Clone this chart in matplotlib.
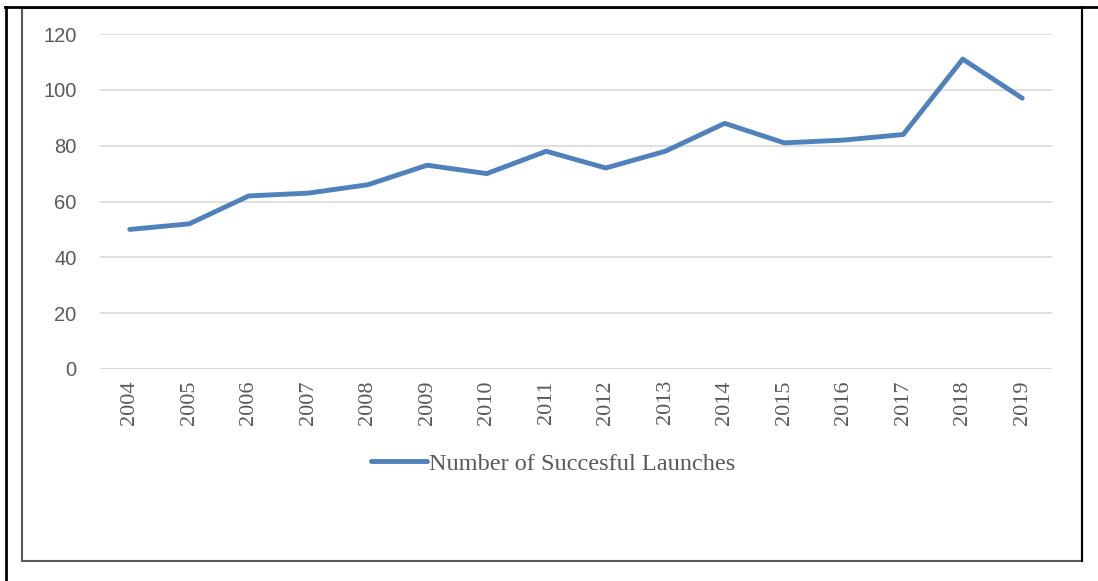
import matplotlib
matplotlib.use("Agg")
import matplotlib.pyplot as plt
from matplotlib.lines import Line2D
from matplotlib.patches import Rectangle

years = ["2004", "2005", "2006", "2007", "2008", "2009", "2010", "2011",
         "2012", "2013", "2014", "2015", "2016", "2017", "2018", "2019"]
launches = [50, 52, 62, 63, 66, 73, 70, 78, 72, 78, 88, 81, 82, 84, 111, 97]
yticks = [0, 20, 40, 60, 80, 100, 120]

W, H = 1098, 581
fig = plt.figure(figsize=(W / 100, H / 100), dpi=100)

# plot area in pixels: x 100..1052, y 34..369
ax = fig.add_axes([100 / W, 1 - 369 / H, 952 / W, 335 / H])
x = list(range(len(years)))
ax.plot(x, launches, color="#4F81BD", lw=3.5, solid_capstyle="round",
        solid_joinstyle="round", label="Number of Succesful Launches")
ax.set_xlim(-0.5, len(years) - 0.5)
ax.set_ylim(0, 120)
ax.set_yticks(yticks)
ax.set_yticklabels([str(v) for v in yticks], fontsize=14.5, color="#595959",
                   family="Liberation Sans")
ax.set_xticks(x)
ax.set_xticklabels(years, rotation=90, fontsize=16, color="#595959",
                   family="Liberation Serif")
ax.tick_params(axis="both", length=0)
ax.tick_params(axis="y", pad=17)
ax.tick_params(axis="x", pad=8)
ax.grid(axis="y", color="#D9D9D9", lw=1.2)
ax.set_axisbelow(True)
for s in ax.spines.values():
    s.set_visible(False)
ax.axhline(0, color="#D9D9D9", lw=1.2)

leg = fig.legend(loc="center", bbox_to_anchor=(553 / W, 1 - 464 / H),
                 frameon=False, handlelength=2.3, handletextpad=0.1,
                 prop={"family": "Liberation Serif", "size": 17.5})
for t in leg.get_texts():
    t.set_color("#595959")

# chart box and outer frame
fig.add_artist(Rectangle((22 / W, 1 - 561 / H), 1060 / W, 553 / H,
                         transform=fig.transFigure, fill=False,
                         edgecolor="#595959", lw=1.5))
fig.add_artist(Line2D([5 / W, 1], [1 - 7 / H, 1 - 7 / H],
                      transform=fig.transFigure, color="black", lw=2))
fig.add_artist(Line2D([6 / W, 6 / W], [0, 1 - 7 / H],
                      transform=fig.transFigure, color="black", lw=2))
fig.add_artist(Line2D([1082 / W, 1082 / W], [1 - 561 / H, 1 - 7 / H],
                      transform=fig.transFigure, color="black", lw=1.5))

fig.savefig("out.png", dpi=100)
